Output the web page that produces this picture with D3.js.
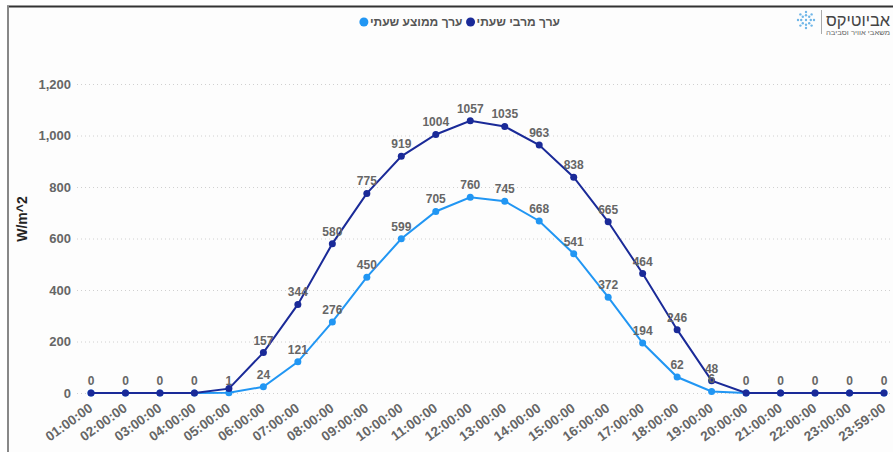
<!DOCTYPE html>
<html>
<head>
<meta charset="utf-8">
<script src="https://cdn.jsdelivr.net/npm/d3@7"></script>
<style>
  html, body { margin: 0; padding: 0; background: #fff; }
  svg { display: block; font-family: "Liberation Sans", Arial, sans-serif; }
</style>
</head>
<body>
<div id="chart"></div>
<script>
const WIDTH = 893
const HEIGHT = 452

// hourly categories
const hours = ['01:00:00', '02:00:00', '03:00:00', '04:00:00', '05:00:00', '06:00:00',
  '07:00:00', '08:00:00', '09:00:00', '10:00:00', '11:00:00', '12:00:00',
  '13:00:00', '14:00:00', '15:00:00', '16:00:00', '17:00:00', '18:00:00',
  '19:00:00', '20:00:00', '21:00:00', '22:00:00', '23:00:00', '23:59:00']

// hourly maximum (dark) and hourly mean (light)
const maxValues = [0, 0, 0, 0, 17, 157, 344, 580, 775, 919, 1004, 1057,
  1035, 963, 838, 665, 464, 246, 48, 0, 0, 0, 0, 0]
const avgValues = [0, 0, 0, 0, 1, 24, 121, 276, 450, 599, 705, 760,
  745, 668, 541, 372, 194, 62, 6, 0, 0, 0, 0, 0]

const yTicks = [0, 200, 400, 600, 800, 1000, 1200]

const series = [
  { name: 'ערך ממוצע שעתי', color: '#2196f3', values: avgValues },
  { name: 'ערך מרבי שעתי', color: '#1a2a98', values: maxValues },
]

const svg = d3.select('#chart').append('svg')
  .attr('width', WIDTH)
  .attr('height', HEIGHT)

// frame
svg.append('rect').attr('x', 8).attr('y', 7).attr('width', WIDTH - 8).attr('height', HEIGHT - 7)
  .attr('fill', '#fdfdfd')
svg.append('line').attr('x1', 7).attr('x2', WIDTH).attr('y1', 6.5).attr('y2', 6.5)
  .attr('stroke', '#333').attr('stroke-width', 2)
svg.append('line').attr('x1', 8).attr('x2', 8).attr('y1', 6).attr('y2', HEIGHT)
  .attr('stroke', '#888').attr('stroke-width', 2)

const x = d3.scalePoint().domain(hours).range([91, 884])
const y = d3.scaleLinear().domain([0, 1200]).range([393, 84])

// gridlines
svg.append('g').selectAll('line').data(yTicks).enter().append('line')
  .attr('x1', 77).attr('x2', WIDTH)
  .attr('y1', (d) => y(d) + 0.5).attr('y2', (d) => y(d) + 0.5)
  .attr('stroke', '#d0d0d0').attr('stroke-dasharray', '1,3')

// y axis labels
const yAxis = svg.append('g').attr('transform', 'translate(71,0)')
  .call(d3.axisLeft(y).tickValues(yTicks).tickSize(0).tickPadding(0).tickFormat(d3.format(',')))
yAxis.select('.domain').remove()
yAxis.selectAll('text')
  .attr('fill', '#666').attr('font-size', 13).attr('font-weight', 'bold')
  .attr('font-family', '"Liberation Sans", Arial, sans-serif')

svg.append('text')
  .attr('transform', 'translate(27,219) rotate(-90)')
  .attr('text-anchor', 'middle')
  .attr('font-size', 14).attr('font-weight', 'bold').attr('fill', '#222')
  .text('W/m^2')

// x axis labels
const xAxis = svg.append('g').attr('transform', 'translate(0,393)')
  .call(d3.axisBottom(x).tickSize(0).tickPadding(0))
xAxis.select('.domain').remove()
xAxis.selectAll('text')
  .attr('fill', '#666').attr('font-size', 13.5).attr('font-weight', 'bold')
  .attr('font-family', '"Liberation Sans", Arial, sans-serif')
  .attr('text-anchor', 'end')
  .attr('dy', 0)
  .attr('transform', 'translate(2,17) rotate(-36)')

// lines and markers
const line = d3.line().x((d, i) => x(hours[i])).y((d) => y(d))
series.forEach((s) => {
  const g = svg.append('g')
  g.append('path').datum(s.values)
    .attr('d', line).attr('fill', 'none')
    .attr('stroke', s.color).attr('stroke-width', 2)
  g.selectAll('circle').data(s.values).enter().append('circle')
    .attr('cx', (d, i) => x(hours[i])).attr('cy', (d) => y(d))
    .attr('r', 3.5).attr('fill', s.color)
})

// data labels, later ones hidden when they overlap an earlier one
const placed = []
series.forEach((s) => {
  s.values.forEach((v, i) => {
    const cx = x(hours[i])
    const cy = y(v) - 8
    const w = String(v).length * 7
    const box = { x0: cx - w / 2, x1: cx + w / 2, y0: cy - 10, y1: cy }
    const hit = placed.some((b) => box.x0 < b.x1 && box.x1 > b.x0 && box.y0 < b.y1 && box.y1 > b.y0)
    if (hit) return
    placed.push(box)
    svg.append('text')
      .attr('x', cx).attr('y', cy)
      .attr('text-anchor', 'middle')
      .attr('font-size', 12).attr('font-weight', 'bold').attr('fill', '#666')
      .text(v)
  })
})

// legend (right to left)
const legend = svg.append('g').attr('font-size', 12).attr('font-weight', 'bold')
let lx = 560
;[series[1], series[0]].forEach((s) => {
  const t = legend.append('text')
    .attr('x', lx).attr('y', 26)
    .attr('text-anchor', 'end').attr('fill', '#555')
    .text(s.name)
  const w = t.node().getComputedTextLength()
  legend.append('circle').attr('cx', lx - w - 6).attr('cy', 22).attr('r', 4.5).attr('fill', s.color)
  lx = lx - w - 14
})

// logo
const logo = svg.append('g')
const dots = [[0, 0], [0, -6], [0, 6], [-6, 0], [6, 0], [-4, -4], [4, -4], [-4, 4], [4, 4],
  [0, -10], [0, 10], [-10, 0], [10, 0], [-7, -7], [7, -7], [-7, 7], [7, 7]]
logo.selectAll('circle').data(dots).enter().append('circle')
  .attr('cx', (d) => 806 + d[0] * 0.8).attr('cy', (d) => 20 + d[1] * 0.8)
  .attr('r', 1.2).attr('fill', '#6fb6e8')
logo.append('line').attr('x1', 821.5).attr('x2', 821.5).attr('y1', 10).attr('y2', 34)
  .attr('stroke', '#aaa')
logo.append('text').attr('x', 890).attr('y', 26).attr('text-anchor', 'end')
  .attr('font-size', 17).attr('fill', '#444')
  .attr('textLength', 64).attr('lengthAdjust', 'spacingAndGlyphs')
  .text('אביוטיקס')
logo.append('text').attr('x', 890).attr('y', 35).attr('text-anchor', 'end')
  .attr('font-size', 7).attr('fill', '#666')
  .attr('textLength', 64).attr('lengthAdjust', 'spacingAndGlyphs')
  .text('משאבי אוויר וסביבה')
</script>
</body>
</html>
